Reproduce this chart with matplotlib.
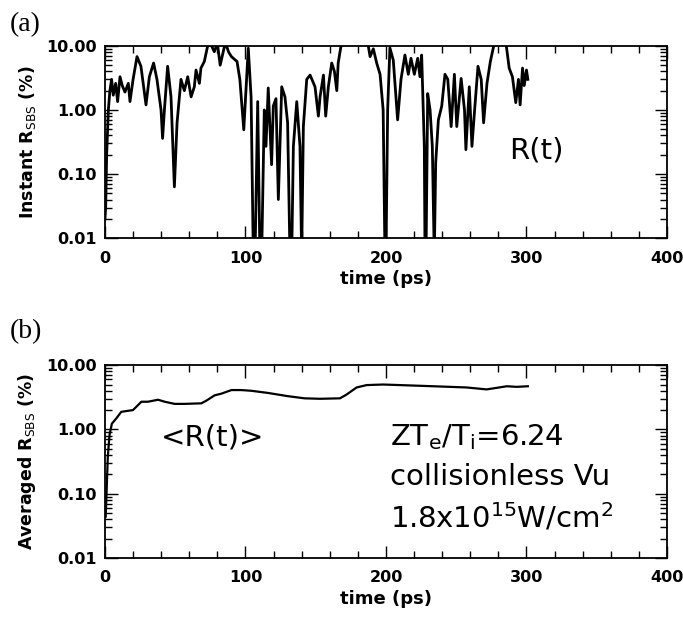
import matplotlib

matplotlib.use('Agg')
import matplotlib.pyplot as plt
from matplotlib.ticker import FixedLocator, LogLocator, MultipleLocator, NullFormatter

# -- data ---------------------------------------------------------------------
# (a) instantaneous reflectivity; 0.005 = trace drops below the 0.01 floor,
# 14 = trace saturates above the 10 ceiling
t_inst = [
    0, 0.5, 1.2, 2.4, 3.5, 4.7, 5.9, 7.6, 9.0, 10.7, 12.3, 14.2, 16.6, 17.8,
    20.0, 22.8, 25.6, 29.2, 31.6, 34.6, 37.0, 39.9, 41.0, 42.3, 44.6, 47.0,
    49.4, 51.3, 54.1, 56.5, 58.9, 61.3, 63.6, 64.8, 67.2, 68.3, 70.7, 73.1,
    75.4, 77.8, 80, 82.0, 84.9, 86.0, 88, 90.0, 94.0, 96.0, 98.8, 102.0,
    104.0, 105.6, 106.8, 108.7, 110.3, 111.5, 113.4, 114.6, 116.2, 118.6,
    119.8, 121.7, 123.4, 125.8, 128.1, 130.0, 131.7, 132.9, 134.1, 136.5,
    138.8, 140.0, 141.2, 143.6, 146.0, 149.5, 151.9, 153.1, 155.5, 157.1,
    159.0, 161.4, 163.3, 165.0, 166.0, 168.0, 170, 186.3, 188.7, 191.0, 193.4,
    195.8, 198.0, 199.3, 200.0, 201.2, 202.8, 205.2, 208.3, 210.7, 213.5,
    215.9, 217.8, 220.2, 222.6, 224.2, 225.4, 227.3, 227.8, 228.5, 229.7,
    231.4, 233.0, 234.4, 235.4, 237.3, 239.7, 242.0, 244.0, 246.4, 248.7,
    250.4, 253.5, 255.9, 256.9, 259.3, 261.2, 263.1, 265.5, 267.8, 269.5,
    271.9, 274.3, 276.7, 278, 284.0, 285.8, 287.7, 290.0, 292.4, 294.3,
    295.5, 297.2, 298.4, 300, 301,
]
r_inst = [
    0.02, 0.03, 0.2, 1.0, 2.0, 3.0, 1.7, 2.6, 1.35, 3.3, 2.4, 1.9, 2.6, 1.35,
    3.0, 6.8, 4.8, 1.2, 3.3, 5.4, 3.0, 1.0, 0.36, 1.0, 4.8, 1.6,
    0.063, 0.63, 3.0, 2.0, 3.3, 1.6, 2.3, 4.2, 2.6, 4.5, 5.7, 10,
    10.5, 8.1, 11, 5.0, 9.5, 10.8, 8, 6.8, 5.7, 3.0, 0.49, 9.2,
    1.6, 0.005, 0.005, 1.35, 0.005, 0.005, 1.0, 0.27, 2.2, 0.14,
    1.15, 1.5, 0.04, 2.3, 1.6, 0.63, 0.005, 0.005, 0.27, 1.35,
    0.27, 0.005, 0.55, 3.0, 3.5, 2.3, 0.8, 1.6, 3.5, 0.8,
    2.3, 5.4, 4.0, 2.0, 5.4, 10, 14, 14, 6.8, 9, 5.4,
    3.6, 1.0, 0.005, 0.005, 1.0, 9.3, 6.0, 0.7, 3.0, 7.2,
    3.6, 6.4, 3.6, 6.4, 3.3, 7.2, 0.27, 0.005, 0.005, 1.8,
    1.0, 0.27, 0.005, 0.15, 0.7, 1.15, 3.6, 3.0, 0.55, 3.6,
    0.55, 3.1, 1.0, 0.24, 2.3, 0.27, 1.0, 4.8, 3.0, 0.63,
    2.6, 5.7, 10, 14, 14, 9.5, 4.5, 3.3, 1.3, 3.0,
    1.2, 4.5, 2.4, 4.2, 3.0,
]

# (b) running average
t_avg = [
    0.5, 1.2, 2.0, 3.2, 4.9, 8, 11.6, 16.4, 19.9, 22.3, 25.9, 30.6, 37.8,
    42.5, 49.6, 56.7, 68.6, 72.1, 78.1, 82.8, 90, 97, 104, 116, 130, 142,
    153, 167.3, 172, 179.1, 186.2, 198, 210, 233.7, 257.4, 271.6, 276.3,
    286, 293, 301,
]
r_avg = [
    0.044, 0.115, 0.37, 0.81, 1.23, 1.48, 1.88, 1.95, 2.0, 2.25, 2.7, 2.7, 2.9,
    2.7, 2.5, 2.5, 2.55, 2.8, 3.4, 3.6, 4.1, 4.1, 4.0, 3.7, 3.3, 3.05,
    3.0, 3.05, 3.5, 4.5, 4.9, 5.0, 4.9, 4.7, 4.5, 4.2, 4.35,
    4.7, 4.6, 4.7,
]

y_ticks = [0.01, 0.1, 1.0, 10.0]
y_ticklabels = ['0.01', '0.10', '1.00', '10.00']


def style_axes(ax, ylabel):
    ax.set_xlim(0, 400)
    ax.set_yscale('log')
    ax.set_ylim(0.01, 10)
    ax.xaxis.set_major_locator(MultipleLocator(100))
    ax.xaxis.set_minor_locator(MultipleLocator(20))
    ax.yaxis.set_major_locator(FixedLocator(y_ticks))
    ax.yaxis.set_minor_locator(LogLocator(base=10, subs=range(2, 10)))
    ax.yaxis.set_minor_formatter(NullFormatter())
    ax.set_yticklabels(y_ticklabels)
    ax.tick_params(which='both', direction='in', top=True, right=True,
                   width=1.0, labelsize=11.5)
    ax.tick_params(axis='x', pad=9)
    ax.tick_params(axis='y', pad=6)
    ax.tick_params(which='major', length=9)
    ax.tick_params(which='minor', length=5)
    for lab in ax.get_xticklabels() + ax.get_yticklabels():
        lab.set_fontweight('bold')
    for sp in ax.spines.values():
        sp.set_linewidth(1.3)
    ax.set_xlabel('time (ps)', fontsize=13, fontweight='bold', labelpad=3)
    ax.set_ylabel(ylabel, fontsize=12.5, fontweight='bold', labelpad=6)


fig = plt.figure(figsize=(6.83, 6.2), dpi=100)
ax_a = fig.add_axes([0.1537, 0.616, 0.8228, 0.310])
ax_b = fig.add_axes([0.1537, 0.100, 0.8228, 0.311])

ax_a.plot(t_inst, r_inst, color='black', lw=2.0)
style_axes(ax_a, r'Instant R$_{\rm SBS}$ (%)')
ax_a.text(288, 0.23, 'R(t)', fontsize=21, va='center', ha='left')

ax_b.plot(t_avg, r_avg, color='black', lw=1.6)
style_axes(ax_b, r'Averaged R$_{\rm SBS}$ (%)')
ax_b.text(40, 0.75, '<R(t)>', fontsize=21, va='center', ha='left')
ax_b.text(203, 0.77, r'ZT$_{\rm e}$/T$_{\rm i}$=6.24', fontsize=21,
          va='center', ha='left')
ax_b.text(203, 0.18, 'collisionless Vu', fontsize=21, va='center', ha='left')
ax_b.text(203, 0.043, r'1.8x10$^{15}$W/cm$^{2}$', fontsize=21,
          va='center', ha='left')

fig.text(0.015, 0.96, '(a)', fontsize=20, family='Liberation Serif', va='center')
fig.text(0.015, 0.465, '(b)', fontsize=20, family='Liberation Serif', va='center')

fig.savefig('out.png', dpi=100)
